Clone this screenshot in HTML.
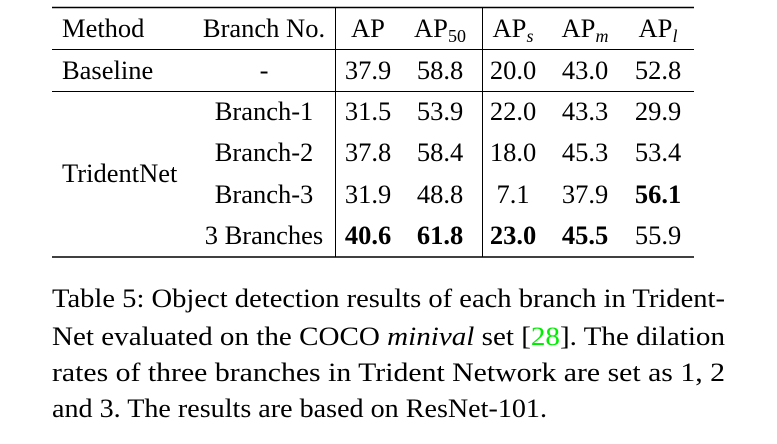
<!DOCTYPE html>
<html><head><meta charset="utf-8">
<style>
html,body{margin:0;padding:0;background:#fff;width:777px;height:444px;overflow:hidden}
svg{display:block}
text{font-family:"Liberation Serif",serif;fill:#000}
.t{font-size:26.5px}
.c{font-size:26px}
.b{font-weight:bold}
</style></head><body>
<svg width="777" height="444" viewBox="0 0 777 444">
<g stroke="#000">
<line x1="52" y1="7.5" x2="694" y2="7.5" stroke-width="1.6"/>
<line x1="52" y1="49.5" x2="694" y2="49.5" stroke-width="1"/>
<line x1="52" y1="91.5" x2="694" y2="91.5" stroke-width="1"/>
<line x1="52" y1="257" x2="694" y2="257" stroke-width="1.6"/>
<line x1="335.5" y1="7" x2="335.5" y2="257" stroke-width="1"/>
<line x1="482.5" y1="7" x2="482.5" y2="257" stroke-width="1"/>
</g>
<g class="t">
<text x="62" y="37">Method</text>
<text x="264" y="37" text-anchor="middle">Branch No.</text>
<text x="368" y="37" text-anchor="middle">AP</text>
<text x="440" y="37" text-anchor="middle">AP<tspan font-size="18" dy="5">50</tspan></text>
<text x="513" y="37" text-anchor="middle">AP<tspan font-size="18" dy="5" font-style="italic">s</tspan></text>
<text x="585" y="37" text-anchor="middle">AP<tspan font-size="18" dy="5" font-style="italic">m</tspan></text>
<text x="658" y="37" text-anchor="middle">AP<tspan font-size="18" dy="5" font-style="italic">l</tspan></text>
</g>
<g class="t">
<text x="62" y="79">Baseline</text>
<text x="264" y="79" text-anchor="middle">-</text>
<text x="368" y="79" text-anchor="middle">37.9</text>
<text x="440" y="79" text-anchor="middle">58.8</text>
<text x="513" y="79" text-anchor="middle">20.0</text>
<text x="585" y="79" text-anchor="middle">43.0</text>
<text x="658" y="79" text-anchor="middle">52.8</text>
</g>
<g class="t">
<text x="62" y="182">TridentNet</text>
<text x="264" y="120" text-anchor="middle">Branch-1</text>
<text x="368" y="120" text-anchor="middle">31.5</text>
<text x="440" y="120" text-anchor="middle">53.9</text>
<text x="513" y="120" text-anchor="middle">22.0</text>
<text x="585" y="120" text-anchor="middle">43.3</text>
<text x="658" y="120" text-anchor="middle">29.9</text>
<text x="264" y="161" text-anchor="middle">Branch-2</text>
<text x="368" y="161" text-anchor="middle">37.8</text>
<text x="440" y="161" text-anchor="middle">58.4</text>
<text x="513" y="161" text-anchor="middle">18.0</text>
<text x="585" y="161" text-anchor="middle">45.3</text>
<text x="658" y="161" text-anchor="middle">53.4</text>
<text x="264" y="203" text-anchor="middle">Branch-3</text>
<text x="368" y="203" text-anchor="middle">31.9</text>
<text x="440" y="203" text-anchor="middle">48.8</text>
<text x="513" y="203" text-anchor="middle">7.1</text>
<text x="585" y="203" text-anchor="middle">37.9</text>
<text x="658" y="203" text-anchor="middle" class="b">56.1</text>
<text x="264" y="244" text-anchor="middle">3 Branches</text>
<text x="368" y="244" text-anchor="middle" class="b">40.6</text>
<text x="440" y="244" text-anchor="middle" class="b">61.8</text>
<text x="513" y="244" text-anchor="middle" class="b">23.0</text>
<text x="585" y="244" text-anchor="middle" class="b">45.5</text>
<text x="658" y="244" text-anchor="middle">55.9</text>
</g>
<g class="c">
<text x="52" y="307" textLength="673" lengthAdjust="spacingAndGlyphs">Table 5: Object detection results of each branch in Trident-</text>
<text x="52" y="345" textLength="673" lengthAdjust="spacingAndGlyphs">Net evaluated on the COCO <tspan font-style="italic">minival</tspan> set [<tspan style="fill:#00ee00">28</tspan>].  The dilation</text>
<text x="52" y="381" textLength="673" lengthAdjust="spacingAndGlyphs">rates of three branches in Trident Network are set as 1, 2</text>
<text x="52" y="417" textLength="495" lengthAdjust="spacingAndGlyphs">and 3. The results are based on ResNet-101.</text>
</g>
</svg>
</body></html>
